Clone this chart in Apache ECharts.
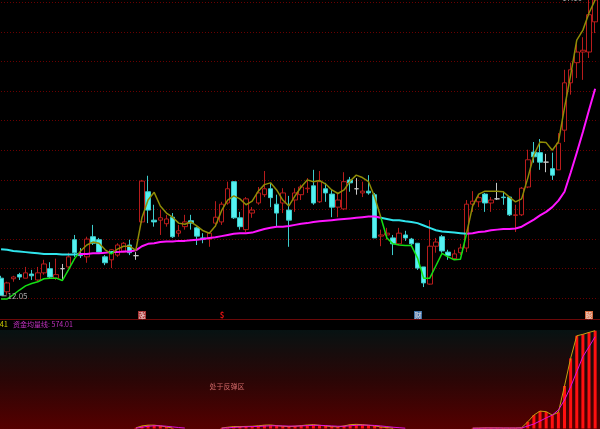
<!DOCTYPE html>
<html><head><meta charset="utf-8">
<script src="https://cdn.jsdelivr.net/npm/echarts@6/dist/echarts.min.js"></script>
<style>html,body{margin:0;padding:0;background:#000;overflow:hidden}#c{width:600px;height:429px}</style>
</head><body><div id="c"></div>
<script>
// [open, close, low, high]
const candles = [
[12.34,12.05,12.05,12.38],[12.11,12.26,12.06,12.28],[12.33,12.36,12.28,12.38],[12.40,12.36,12.31,12.43],
[12.34,12.43,12.34,12.53],[12.41,12.38,12.31,12.48],[12.31,12.43,12.28,12.53],[12.43,12.58,12.40,12.65],
[12.50,12.36,12.34,12.61],[12.34,12.40,12.31,12.67],[12.50,12.50,12.31,12.58],[12.53,12.70,12.51,12.77],
[12.99,12.77,12.70,13.07],[12.75,12.72,12.68,12.85],[12.70,13.00,12.60,13.04],[13.04,12.93,12.90,13.24],
[12.99,12.78,12.77,13.02],[12.70,12.60,12.56,12.73],[12.65,12.82,12.51,12.83],[12.73,12.90,12.70,12.93],
[12.78,12.93,12.77,12.95],[12.90,12.77,12.73,12.99],[12.72,12.72,12.65,12.78],[13.29,13.98,13.27,14.00],
[13.80,13.49,13.27,14.07],[13.32,13.29,13.21,13.58],[13.32,13.36,13.07,13.49],[13.26,13.34,13.21,13.41],
[13.37,13.04,13.02,13.44],[13.10,13.14,13.04,13.24],[13.21,13.29,13.16,13.41],[13.31,13.27,13.16,13.41],
[13.19,13.05,12.90,13.21],[13.02,13.00,12.93,13.10],[13.00,13.10,12.87,13.12],[13.27,13.37,13.21,13.64],
[13.29,13.59,13.24,13.63],[13.61,13.85,13.58,13.97],[13.97,13.36,13.34,13.98],[13.36,13.21,13.16,13.46],
[13.16,13.68,13.12,13.71],[13.44,13.49,13.36,13.54],[13.61,13.78,13.58,13.88],[13.75,13.85,13.71,14.15],
[13.85,13.70,13.54,13.95],[13.59,13.44,13.21,13.75],[13.61,13.78,13.44,13.86],[13.49,13.32,12.87,13.73],
[13.66,13.78,13.46,13.86],[13.75,13.88,13.66,13.92],[13.85,13.86,13.78,14.03],[13.90,13.61,13.58,14.17],
[13.63,13.97,13.61,14.15],[13.85,13.78,13.63,13.95],[13.76,13.54,13.37,13.83],[13.54,13.66,13.37,13.78],
[13.51,13.97,13.49,14.13],[14.00,13.95,13.80,14.05],[13.85,13.85,13.75,14.03],[13.78,13.81,13.71,13.97],
[13.81,13.78,13.75,14.08],[13.75,13.02,13.02,13.78],[13.05,13.07,12.88,13.16],[13.07,13.10,12.99,13.19],
[13.02,12.92,12.73,13.07],[12.92,13.10,12.90,13.19],[13.07,13.02,12.97,13.14],[13.00,12.92,12.90,13.02],
[12.93,12.51,12.48,12.93],[12.53,12.26,12.19,12.53],[12.24,12.88,12.23,13.32],[12.88,12.95,12.77,13.02],
[13.04,12.80,12.77,13.07],[12.78,12.72,12.65,12.82],[12.67,12.75,12.65,12.82],[12.77,12.85,12.73,12.92],
[12.85,13.59,12.78,13.66],[13.59,13.64,13.46,13.81],[13.63,13.70,13.54,13.73],[13.76,13.61,13.46,13.78],
[13.61,13.66,13.46,13.71],[13.68,13.68,13.66,13.95],[13.71,13.70,13.58,13.80],[13.71,13.41,13.39,13.71],
[13.40,13.41,13.12,13.58],[13.41,13.86,13.39,13.88],[13.88,14.34,13.86,14.51],[14.47,14.39,14.29,14.64],
[14.46,14.30,14.17,14.69],[14.30,14.30,14.13,14.44],[14.19,14.08,14.00,14.46],[14.17,14.62,14.17,14.79],
[14.84,15.64,14.64,15.86],[15.64,15.86,15.44,15.98],[15.98,16.16,15.72,16.31],[16.16,16.19,15.69,16.41],
[16.16,16.79,16.06,17.04],[16.67,17.04,16.48,17.10]
];
const shortLine = [11.99,11.99,12.06,12.14,12.21,12.25,12.28,12.33,12.34,12.34,12.30,12.48,12.67,12.80,12.90,12.95,12.93,12.82,12.75,12.83,
12.88,12.88,12.81,13.36,13.66,13.79,13.56,13.44,13.37,13.27,13.25,13.29,13.22,13.14,13.10,13.22,13.48,13.66,13.73,13.68,
13.58,13.64,13.81,13.92,13.95,13.83,13.66,13.56,13.73,13.88,14.00,13.97,13.99,13.93,13.83,13.77,13.83,13.98,14.08,14.04,
13.97,13.71,13.37,13.02,12.92,12.90,12.89,12.89,12.68,12.34,12.34,12.55,12.76,12.70,12.65,12.66,13.09,13.56,13.76,13.81,
13.81,13.81,13.80,13.71,13.63,13.68,14.03,14.42,14.64,14.63,14.50,14.64,15.22,15.77,16.36,16.53,16.82,17.04];
const longLine = [12.83,12.82,12.80,12.79,12.78,12.77,12.76,12.75,12.75,12.75,12.74,12.74,12.74,12.75,12.75,12.76,12.76,12.77,12.78,12.78,
12.79,12.79,12.81,12.88,12.92,12.93,12.95,12.96,12.96,12.97,12.97,12.98,12.99,13.00,13.02,13.03,13.05,13.07,13.09,13.10,
13.10,13.11,13.14,13.17,13.19,13.21,13.21,13.22,13.24,13.26,13.27,13.29,13.30,13.31,13.32,13.33,13.34,13.35,13.36,13.37,
13.38,13.38,13.36,13.34,13.32,13.32,13.30,13.29,13.27,13.23,13.19,13.15,13.13,13.12,13.11,13.10,13.09,13.10,13.12,13.13,
13.15,13.16,13.17,13.17,13.18,13.21,13.27,13.33,13.40,13.46,13.54,13.65,13.80,14.12,14.46,14.81,15.18,15.54];
const N = null;
const fundLine = [N,N,N,N,N,N,N,N,N,N,N,N,N,N,N,N,N,N,N,N,N,N,
4,16,21,21,16,10,3,N,N,N,N,N,N,N,
3,8,12,12,13,14,17,21,22,18,14,12,14,18,22,24,20,16,12,10,16,24,26,24,20,16,10,6,2,
N,N,N,N,N,N,N,N,N,N,N,N,
2,3,4,4,4,3,3,3,
5,42,84,109,105,84,101,266,439,580,589,601,611.41];
const fundAvg = [N,N,N,N,N,N,N,N,N,N,N,N,N,N,N,N,N,N,N,N,N,N,
2,8,14,17,17,14,10,6,3,N,N,N,N,N,
2,4,7,9,11,12,13,15,17,17,16,15,15,16,18,20,20,18,16,14,14,17,20,21,21,19,16,12,8,5,2,
N,N,N,N,N,N,N,N,N,N,
2,2,3,3,3,3,3,3,
3,16,28,47,66,84,116,178,261,355,449,511,574.01];
const categories = candles.map((_, i) => String(i + 1));
const markerIdx = [23, 36, 68, 96];
const markerText = ['涨', '$', '财', '股'];
const fundName = '资金均量线';
const zoneText = '处于反弹区';

function splitByCross(a, b) {
  const up = [], dn = [];
  let cur = a[0] >= b[0];
  (cur ? up : dn).push([0, a[0]]);
  for (let i = 1; i < a.length; i++) {
    const c = a[i] >= b[i];
    if (c !== cur) {
      const d0 = a[i-1] - b[i-1], d1 = a[i] - b[i];
      const t = d0 / (d0 - d1);
      const p = [i - 1 + t, a[i-1] + t * (a[i] - a[i-1])];
      (cur ? up : dn).push(p); (cur ? up : dn).push(['-', '-']);
      cur = c;
      (cur ? up : dn).push(p);
    }
    (cur ? up : dn).push([i, a[i]]);
  }
  return [up, dn];
}
const [shortUp, shortDn] = splitByCross(shortLine, longLine);
const [longUp, longDn] = splitByCross(longLine, shortLine);

const FONT = '"Noto Sans CJK SC", "DejaVu Sans", sans-serif';
const chart = echarts.init(document.getElementById('c'));
const lineBase = { type: 'line', xAxisIndex: 2, yAxisIndex: 0, symbol: 'none', clip: false, silent: true, z: 4 };
chart.setOption({
  animation: false,
  backgroundColor: '#000000',
  grid: [
    { left: -2, width: 600.2, top: -27.3, height: 325.6, outerBoundsMode: 'none', containLabel: false },
    { left: -2, width: 600.2, top: 330, height: 98.5, outerBoundsMode: 'none', containLabel: false }
  ],
  xAxis: [
    { type: 'category', gridIndex: 0, data: categories, show: false, boundaryGap: true },
    { type: 'category', gridIndex: 1, data: categories, show: false, boundaryGap: true },
    { type: 'value', gridIndex: 0, min: -0.5, max: candles.length - 0.5, show: false }
  ],
  yAxis: [
    { type: 'value', gridIndex: 0, min: 12, max: 17.5, interval: 0.5, axisLine: { show: false }, axisTick: { show: false }, axisLabel: { show: false },
      splitLine: { show: true, lineStyle: { color: '#6a0000', type: [1, 2], width: 1 } } },
    { type: 'value', gridIndex: 1, min: 0, max: 616, show: false, splitLine: { show: false } }
  ],
  series: [
    { type: 'candlestick', xAxisIndex: 0, yAxisIndex: 0, data: candles, barWidth: 5, clip: false, z: 3,
      itemStyle: { color: '#000000', color0: '#54f2f2', borderColor: '#b81c1c', borderColor0: '#3ccccc', borderColorDoji: '#c8c8c8', borderWidth: 1 } },
    Object.assign({}, lineBase, { data: longUp, lineStyle: { color: '#30e4ec', width: 2 } }),
    Object.assign({}, lineBase, { data: longDn, lineStyle: { color: '#ff14ff', width: 2 } }),
    Object.assign({}, lineBase, { data: shortUp, lineStyle: { color: '#8f8c06', width: 1.5 }, z: 5 }),
    Object.assign({}, lineBase, { data: shortDn, lineStyle: { color: '#14e014', width: 1.5 }, z: 5 }),
    { type: 'bar', xAxisIndex: 1, yAxisIndex: 1, data: fundLine, barWidth: 3, itemStyle: { color: '#ff1010' }, silent: true },
    { type: 'line', xAxisIndex: 1, yAxisIndex: 1, data: fundLine, symbol: 'none', lineStyle: { color: '#c8a010', width: 1 }, silent: true, z: 4 },
    { type: 'line', xAxisIndex: 1, yAxisIndex: 1, data: fundAvg, symbol: 'none', lineStyle: { color: '#e010e0', width: 1 }, silent: true, z: 5 }
  ]
});

const toPx = (i, v) => chart.convertToPixel({ seriesIndex: 0 }, [i, v]);
let iMin = 0, iMax = 0;
candles.forEach((c, i) => { if (c[2] < candles[iMin][2]) iMin = i; if (c[3] > candles[iMax][3]) iMax = i; });
const pMin = toPx(iMin, candles[iMin][2]);
const pMax = toPx(iMax, candles[iMax][3]);
const markerBg = ['#a83434', null, '#3f72a8', '#d46a3c'];
const elements = [
  { type: 'rect', z: -10, shape: { x: 0, y: 330, width: 600, height: 99 },
    style: { fill: new echarts.graphic.LinearGradient(0, 0, 0, 1, [{ offset: 0, color: '#071212' }, { offset: 0.5, color: '#2a0606' }, { offset: 1, color: '#560000' }]) } },
  { type: 'line', z: 10, shape: { x1: 0, y1: 319.5, x2: 600, y2: 319.5 }, style: { stroke: '#6a0808', lineWidth: 1 } },
  { type: 'line', z: 10, shape: { x1: pMin[0] + 0.5, y1: pMin[1] + 0.5, x2: pMin[0] + 5.5, y2: pMin[1] + 0.5 }, style: { stroke: '#a8a8a8', lineWidth: 1 } },
  { type: 'text', z: 10, x: pMin[0] + 6.5, y: pMin[1] + 1, style: { text: candles[iMin][2].toFixed(2), fill: '#a8a8a8', fontSize: 8, fontFamily: FONT, verticalAlign: 'middle', align: 'left' } },
  { type: 'line', z: 10, shape: { x1: pMax[0] - 12, y1: pMax[1] + 0.5, x2: pMax[0], y2: pMax[1] + 0.5 }, style: { stroke: '#a8a8a8', lineWidth: 1 } },
  { type: 'text', z: 10, x: pMax[0] - 13, y: pMax[1] + 2, style: { text: candles[iMax][3].toFixed(2), fill: '#a8a8a8', fontSize: 8, fontFamily: FONT, verticalAlign: 'middle', align: 'right' } },
  { type: 'text', z: 10, x: 8, y: 324.5, style: { text: fundLine[fundLine.length - 1].toFixed(2), fill: '#c8c800', fontSize: 7.5, fontFamily: FONT, verticalAlign: 'middle', align: 'right' } },
  { type: 'text', z: 10, x: 13, y: 324.5, style: { text: fundName + ': ' + fundAvg[fundAvg.length - 1].toFixed(2), fill: '#c030c0', fontSize: 7, fontFamily: FONT, verticalAlign: 'middle', align: 'left' } },
  { type: 'text', z: 10, x: 227, y: 386, style: { text: zoneText, fill: '#d06868', fontSize: 7, fontFamily: FONT, verticalAlign: 'middle', align: 'center' } }
];
markerIdx.forEach((idx, k) => {
  const x = Math.round(toPx(idx, 12)[0]);
  if (markerBg[k]) {
    elements.push({ type: 'rect', z: 10, shape: { x: x - 4, y: 311, width: 8, height: 8 }, style: { fill: markerBg[k] } });
    elements.push({ type: 'text', z: 11, x: x, y: 315, style: { text: markerText[k], fill: '#f4e4e4', fontSize: 7, fontFamily: FONT, verticalAlign: 'middle', align: 'center' } });
  } else {
    elements.push({ type: 'text', z: 11, x: x, y: 315, style: { text: markerText[k], fill: '#e01010', fontSize: 8, fontWeight: 'bold', fontFamily: FONT, verticalAlign: 'middle', align: 'center' } });
  }
});
chart.setOption({ graphic: { elements } });
</script>
</body></html>
